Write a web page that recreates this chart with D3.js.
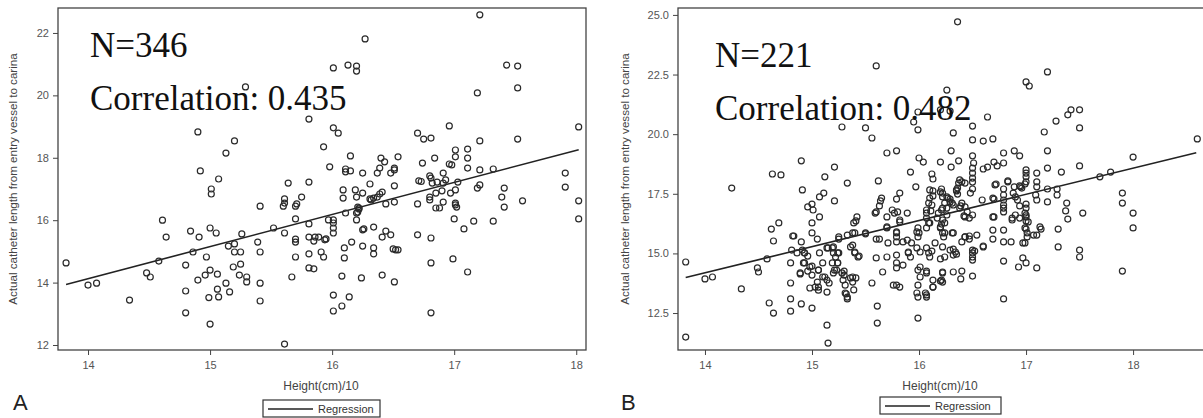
<!doctype html>
<html lang="en">
<head>
<meta charset="utf-8">
<script src="https://cdn.jsdelivr.net/npm/d3@7"></script>
<title>Catheter length vs height</title>
<style>
 body { margin: 0; background: #fff; }
 svg { display: block; }
 .tick text { font-family: Arial, "Liberation Sans", sans-serif; font-size: 11px; fill: #555; }
 .tick line { stroke: #444; }
 .axis path.domain { display: none; }
 .frame { fill: none; stroke: #444; stroke-width: 1.3; }
 .pt { fill: none; stroke: #2a2a2a; stroke-width: 1.2; }
 .reg { stroke: #222; stroke-width: 1.6; }
 .lab { font-family: Arial, "Liberation Sans", sans-serif; fill: #444; }
 .big { font-family: "Liberation Serif", "Times New Roman", serif; font-size: 35px; fill: #111; }
</style>
</head>
<body>
<svg id="chart" width="1203" height="418"></svg>
<script>
// panel A: height(cm)/10 vs catheter length
var pointsA = [
 [13.82,14.63],[14.00,13.92],[14.07,13.98],[14.34,13.44],[14.48,14.31],[14.51,14.18],[14.58,14.69],[14.61,16.00],
 [14.64,15.46],[14.80,14.56],[14.80,13.73],[14.80,13.03],[14.84,15.65],[14.86,14.98],[14.90,14.08],[14.91,15.46],
 [14.97,14.82],[14.96,14.24],[15.00,14.40],[14.99,13.52],[15.00,12.67],[15.00,15.75],[15.05,15.59],[15.06,14.27],
 [15.06,13.79],[15.07,13.54],[15.13,13.98],[15.16,13.70],[15.15,15.17],[15.19,14.50],[15.20,15.24],[15.20,14.98],
 [15.24,14.24],[15.25,14.98],[15.26,15.56],[15.25,14.59],[15.30,14.18],[15.30,14.02],[15.41,16.45],[15.39,15.30],
 [15.41,14.98],[15.41,13.98],[15.41,13.41],[15.52,15.75],[15.61,15.59],[15.67,14.18],[15.61,12.03],[15.70,16.04],
 [15.70,15.39],[15.70,15.30],[15.70,14.82],[15.29,20.27],[14.90,18.83],[15.20,18.54],[15.13,18.15],[14.92,17.58],
 [15.07,17.32],[15.01,17.00],[15.01,16.84],[15.64,17.19],[15.61,16.68],[15.61,16.55],[15.60,16.45],[15.70,16.45],
 [17.21,22.58],[16.27,21.81],[16.01,20.88],[16.13,20.97],[16.20,20.94],[16.20,20.78],[17.43,20.97],[17.52,20.94],
 [17.52,20.24],[17.19,20.08],[15.81,19.24],[16.01,18.96],[16.05,18.79],[15.93,18.35],[16.96,19.02],[16.70,18.79],
 [16.75,18.60],[16.81,18.63],[17.21,18.54],[17.52,18.60],[18.02,18.99],[16.15,18.06],[15.98,17.71],[16.11,17.64],
 [16.11,17.55],[16.15,17.58],[16.25,17.51],[15.81,17.22],[16.40,17.99],[16.43,17.87],[16.54,18.03],[16.51,17.67],
 [16.51,17.61],[16.37,17.51],[16.39,17.67],[16.48,17.51],[16.31,17.16],[16.51,17.10],[16.74,17.83],[16.84,17.99],
 [16.96,17.80],[16.98,17.77],[17.01,18.25],[17.01,18.03],[17.11,18.28],[17.11,17.99],[17.11,17.67],[17.03,17.22],
 [17.21,17.61],[17.32,17.64],[17.21,17.13],[16.91,17.51],[16.71,17.26],[16.73,17.24],[16.80,17.42],[16.81,17.35],
 [16.82,17.19],[16.86,17.22],[16.91,17.19],[16.93,17.29],[16.85,16.87],[16.90,16.94],[16.91,16.58],[16.80,16.74],
 [16.80,16.65],[17.01,16.97],[16.97,16.87],[17.01,16.55],[17.01,16.49],[17.02,16.42],[17.19,17.03],[17.41,17.03],
 [17.39,16.74],[17.56,16.62],[17.41,16.42],[17.91,17.51],[17.91,17.06],[18.02,16.62],[16.70,16.52],[16.09,16.97],
 [16.19,16.97],[16.25,16.87],[16.20,16.74],[16.41,16.90],[16.39,16.84],[16.09,16.71],[15.75,16.74],[15.71,16.52],
 [16.34,16.71],[16.37,16.74],[16.32,16.65],[16.44,16.52],[16.51,16.58],[16.22,16.39],[15.81,15.88],[15.81,15.46],
 [15.81,14.92],[15.81,14.47],[15.85,14.44],[15.85,15.33],[15.89,15.46],[15.91,14.98],[15.93,14.82],[15.95,15.40],
 [15.97,16.01],[16.01,16.01],[16.01,15.91],[16.01,15.75],[16.01,15.59],[16.11,16.23],[16.20,16.23],[16.20,16.01],
 [16.25,15.69],[16.26,15.72],[16.34,15.78],[16.16,15.30],[16.10,15.11],[16.10,14.79],[16.25,15.17],[16.34,15.11],
 [16.34,14.92],[16.41,15.46],[16.44,15.65],[16.48,15.53],[16.50,15.08],[16.52,15.05],[16.54,15.05],[16.08,14.21],
 [16.24,14.15],[16.41,14.24],[16.51,14.02],[16.01,13.60],[16.14,13.54],[16.01,13.09],[16.08,13.25],[16.70,15.53],
 [16.81,15.43],[16.81,14.63],[16.81,13.03],[16.88,16.39],[17.00,16.04],[17.08,15.72],[17.16,15.97],[16.99,14.76],
 [17.11,14.34],[17.32,15.97],[18.02,16.04],[16.21,16.42],[16.22,16.36],[16.21,16.26],[15.86,15.46],[15.94,15.37],
 [16.31,16.68],[16.85,16.39]
];

// panel B
var pointsB = [
 [14.25,17.74],[14.63,18.33],[14.71,18.29],[14.90,18.88],[14.91,17.66],[15.12,18.21],[15.21,18.62],[15.21,17.20],
 [15.33,17.95],[15.07,17.37],[15.11,17.53],[14.96,16.95],[15.00,17.07],[15.28,20.30],[15.50,20.26],[15.56,19.84],
 [15.60,22.86],[15.62,18.04],[15.70,19.21],[15.79,19.30],[15.65,17.32],[15.64,17.20],[15.79,17.28],
 [13.82,14.64],[13.82,11.49],[14.00,13.93],[14.07,14.01],[14.34,13.51],[14.49,14.39],[14.50,14.22],[14.58,14.77],
 [14.60,12.92],[14.64,12.50],[14.62,16.02],[14.69,16.28],[14.64,15.52],[14.80,14.60],[14.80,13.76],[14.80,13.09],
 [14.80,12.58],[14.83,15.73],[14.86,15.02],[14.89,14.14],[14.90,12.88],[14.90,15.48],[14.93,15.02],[14.93,14.60],
 [14.96,14.89],[14.96,14.26],[14.98,13.55],[15.00,12.71],[15.00,15.86],[15.00,16.28],[15.00,14.47],[15.05,15.60],
 [15.06,14.30],[15.05,13.80],[15.06,13.59],[15.07,16.53],[15.12,14.01],[15.14,11.99],[15.15,11.24],[15.16,13.76],
 [15.14,15.23],[15.19,14.60],[15.20,15.27],[15.20,15.02],[15.24,15.02],[15.21,14.30],[15.24,14.60],[15.25,15.60],
 [15.30,14.26],[15.30,14.09],[15.32,13.30],[15.33,13.09],[15.33,15.77],[15.38,13.80],[15.41,13.97],[15.39,13.47],
 [15.38,15.35],[15.40,15.02],[15.44,14.89],[15.40,15.86],[15.42,16.53],[15.41,16.36],[15.50,15.86],[15.56,13.76],
 [15.61,12.79],[15.61,12.08],[15.60,14.81],[15.59,16.69],[15.60,16.74],[15.60,15.60],[15.63,15.60],[15.66,14.22],
 [15.70,16.07],[15.70,14.85],[15.71,15.44],[15.70,16.53],[15.76,13.67],[15.77,16.69],[15.79,15.86],[15.79,15.48],
 [15.79,14.93],[15.79,14.60],[15.79,14.39],
 [16.36,24.71],[17.20,22.61],[17.00,22.19],[17.03,22.02],[16.26,21.85],[17.39,20.81],[17.42,21.02],[17.50,21.02],
 [17.28,20.55],[17.50,20.26],[17.17,20.09],[18.60,19.80],[18.00,19.04],[16.64,20.72],[15.99,20.93],[16.20,21.02],
 [16.29,20.97],[15.95,20.51],[15.99,20.18],[16.32,20.05],[16.50,20.34],[16.50,19.76],[16.60,19.71],[16.69,19.80],
 [16.30,19.30],[16.00,19.00],[16.04,18.83],[16.20,18.83],[16.37,18.88],[16.30,18.62],[15.92,18.41],[16.12,18.33],
 [16.13,18.12],[16.50,19.09],[16.51,18.79],[16.50,18.58],[16.50,18.37],[16.50,18.16],[16.50,17.99],[16.50,17.70],
 [16.60,18.54],[16.64,18.62],[16.70,18.83],[16.73,18.67],[16.79,18.79],[16.79,19.21],[16.89,19.30],[16.94,19.09],
 [17.20,19.30],[17.20,18.58],[17.33,18.41],[17.50,18.67],[17.69,18.21],[17.79,18.41],[17.90,17.53],[17.90,17.11],
 [17.00,18.50],[17.00,18.37],[17.00,18.21],[17.00,18.00],[16.99,17.91],[16.95,17.79],[17.10,18.37],[17.10,18.00],
 [17.10,17.79],[17.09,17.45],[17.10,17.24],[17.20,17.70],[17.29,17.70],[17.29,17.45],[17.38,17.11],[16.79,17.70],
 [16.79,17.45],[16.79,17.24],[16.79,17.03],[16.88,17.53],[16.90,17.37],[16.92,17.24],[16.72,17.91],[16.70,17.28],
 [16.83,18.00],[16.59,17.24],[16.48,17.53],[16.40,18.00],[16.37,17.95],[16.35,17.62],[16.36,17.74],[16.22,17.53],
 [16.27,17.32],[16.21,17.70],[16.10,17.66],[16.13,17.62],[16.13,17.41],[16.10,17.32],[16.09,17.11],[15.97,17.79],
 [15.82,17.53],[16.40,17.11],[16.39,16.99],[16.29,17.28],[16.31,17.11],
 [15.99,12.29],[16.79,13.09],[17.90,14.26],[18.00,16.69],[18.00,16.07],[17.50,15.14],[17.50,14.85],[17.53,16.69],
 [17.37,16.78],[17.39,16.44],[17.30,16.02],[17.30,15.27],[17.14,16.02],[17.10,14.39],[17.07,15.77],[17.00,16.61],
 [17.00,16.53],[17.00,16.36],[16.99,16.07],[17.00,16.02],[16.99,15.44],[16.97,15.44],[16.97,14.81],[17.00,14.60],
 [16.93,14.43],[17.02,16.32],[16.79,16.90],[16.79,16.74],[16.79,15.98],[16.79,15.48],[16.79,14.68],[16.87,16.40],
 [16.90,16.61],[16.94,16.99],[16.69,16.53],[16.69,15.60],[16.60,15.27],[16.54,15.77],[16.50,15.14],[16.50,15.02],
 [16.50,14.85],[16.50,14.72],[16.52,15.10],[16.50,14.05],[16.47,15.60],[16.43,15.69],[16.40,15.48],[16.40,14.26],
 [16.50,16.61],[16.43,16.53],[16.45,16.74],[16.32,15.86],[16.24,15.86],[16.32,15.18],[16.29,15.14],[16.35,14.97],
 [16.22,15.27],[16.22,14.22],[16.20,13.84],[16.13,13.59],[16.07,13.26],[15.99,13.17],[15.99,13.67],[16.20,14.77],
 [16.12,15.10],[16.10,14.85],[16.20,16.07],[16.21,16.23],[16.10,16.28],[16.07,16.69],[16.12,17.03],[16.22,16.90],
 [16.29,17.16],[15.99,16.07],[15.98,15.90],[16.00,15.86],[15.99,15.69],[16.01,14.43],[16.07,14.26],[15.85,15.48],
 [15.89,15.56],[15.93,15.44],[15.90,15.02],[15.92,14.85],[15.85,14.51],[15.89,16.69],[15.80,16.74],[15.82,16.32],
 [15.01,16.82],[15.63,16.99],[15.75,16.82],[15.39,16.28],[15.70,16.11],[15.82,16.40],[16.20,17.58],[16.22,17.37],
 [16.24,17.11],[16.26,16.90],[16.21,16.82],[16.07,16.82],[16.11,16.78],[16.07,16.48],[16.18,16.69],[16.17,16.48],
 [16.26,16.61],[16.22,16.40],[16.24,16.28],[16.09,16.28],[16.07,16.07],[16.20,16.11],[16.22,15.86],[16.23,15.69],
 [15.79,15.90],[15.79,15.69],[15.90,15.06],[15.98,15.23],[16.01,15.06],[16.07,15.23],[16.09,15.02],[16.15,15.44],
 [16.24,14.85],[16.07,14.18],[16.13,13.88],[16.21,13.88],[16.22,14.18],[15.99,14.30],[16.01,14.01],[15.38,15.86],
 [15.50,15.82],[15.36,15.27],[15.40,15.06],[15.43,14.85],[15.25,15.69],[15.15,15.23],[15.19,15.23],[15.25,15.02],
 [15.22,14.85],[15.24,14.60],[15.07,15.02],[15.10,14.60],[15.06,14.30],[15.10,14.01],[15.14,13.88],[15.20,14.18],
 [15.23,14.30],[15.28,14.18],[15.29,13.88],[15.31,13.67],[15.38,14.01],[15.36,13.97],[15.79,13.67],[15.82,13.59],
 [14.91,15.14],[14.93,15.02],[14.92,14.60],[14.82,15.73],[14.81,15.14],[14.98,14.43],[15.00,14.09],[14.89,14.18],
 [15.03,13.59],[15.06,13.46],[15.14,13.38],[15.31,13.34],[15.33,13.17],[15.98,13.34],[16.06,13.34],[16.07,13.17],
 [16.13,13.59],[16.22,13.80],
 [17.10,15.77],[17.20,17.16],[17.00,17.07],[17.00,16.90],[16.99,16.69],[16.94,17.83],[16.96,17.74],[16.83,18.04],
 [16.89,17.79],[16.71,17.87],[16.87,16.48],[16.94,16.48],[16.69,17.32],[16.70,16.53],[16.69,15.98],[17.01,15.86],
 [17.01,15.69],[17.13,16.11],[16.86,15.48],[16.60,15.31],[16.34,15.06],[16.32,14.93],[16.31,15.86],[16.43,15.69],
 [16.47,15.73],[16.42,16.57],[16.47,16.48],[16.38,18.08],[16.43,17.95],[16.35,17.66],[16.36,17.49],[16.32,14.22],
 [16.39,13.93],[16.26,17.37],[16.32,17.03],[16.38,16.90],[16.43,16.95]
];

// fitted lines (end points)
var regA = [[13.82, 13.94], [18.02, 18.26]];
var regB = [[13.82, 13.99], [18.59, 19.22]];

var xTicks = [14, 15, 16, 17, 18];
var yTicksA = [12, 14, 16, 18, 20, 22];
var yTicksB = [12.5, 15, 17.5, 20, 22.5, 25];

var xTitle = "Height(cm)/10";
var yTitle = "Actual catheter length from entry vessel to carina";
var legendText = "Regression";

var panels = [
  { id: "A", pts: pointsA, reg: regA, yTicks: yTicksA, yFmt: d3.format("d"),
    xDom: [13.754, 18.08], yDom: [11.84, 22.80], left: 58, right: 586, top: 8, bottom: 350,
    n: "N=346", corr: "Correlation: 0.435", nx: 90, ny: 57, cy: 110,
    yLabX: 13, letterX: 13, legX: 263, legY: 400, legW: 117, xLabX: 321 },
  { id: "B", pts: pointsB, reg: regB, yTicks: yTicksB, yFmt: d3.format(".1f"),
    xDom: [13.748, 18.7], yDom: [10.95, 25.29], left: 678, right: 1208, top: 8, bottom: 350,
    n: "N=221", corr: "Correlation: 0.482", nx: 715, ny: 67, cy: 120,
    yLabX: 625, letterX: 621, legX: 880, legY: 397, legW: 121, xLabX: 940 }
];

var svg = d3.select("#chart");

panels.forEach(function (p) {
  var x = d3.scaleLinear().domain(p.xDom).range([p.left, p.right]);
  var y = d3.scaleLinear().domain(p.yDom).range([p.bottom, p.top]);
  var g = svg.append("g");

  g.append("rect")
    .attr("class", "frame")
    .attr("x", p.left).attr("y", p.top)
    .attr("width", p.right - p.left).attr("height", p.bottom - p.top);

  g.append("g")
    .attr("class", "axis")
    .attr("transform", "translate(0," + p.bottom + ")")
    .call(d3.axisBottom(x).tickValues(xTicks).tickFormat(d3.format("d"))
      .tickSize(5).tickPadding(6).tickSizeOuter(0));

  g.append("g")
    .attr("class", "axis")
    .attr("transform", "translate(" + p.left + ",0)")
    .call(d3.axisLeft(y).tickValues(p.yTicks).tickFormat(p.yFmt).tickSize(5).tickPadding(4).tickSizeOuter(0));

  // regression line
  g.append("line")
    .attr("class", "reg")
    .attr("x1", x(p.reg[0][0])).attr("y1", y(p.reg[0][1]))
    .attr("x2", x(p.reg[1][0])).attr("y2", y(p.reg[1][1]));

  // points
  g.selectAll(".pt").data(p.pts).enter().append("circle")
    .attr("class", "pt")
    .attr("r", 3)
    .attr("cx", function (d) { return x(d[0]); })
    .attr("cy", function (d) { return y(d[1]); });

  // big annotations
  g.append("text").attr("class", "big").attr("x", p.nx).attr("y", p.ny).text(p.n);
  g.append("text").attr("class", "big").attr("x", p.nx).attr("y", p.cy).text(p.corr);

  // axis titles
  g.append("text").attr("class", "lab")
    .attr("x", p.xLabX).attr("y", 390)
    .attr("text-anchor", "middle").style("font-size", "12px")
    .text(xTitle);

  g.append("text").attr("class", "lab")
    .attr("transform", "translate(" + (p.yLabX + 4) + "," + ((p.top + p.bottom) / 2) + ") rotate(-90)")
    .attr("text-anchor", "middle").style("font-size", "11.6px")
    .text(yTitle);

  // panel letter
  g.append("text")
    .attr("x", p.letterX).attr("y", 410)
    .style("font-family", "Arial, 'Liberation Sans', sans-serif")
    .style("font-size", "22px").style("fill", "#222")
    .text(p.id);

  // legend
  var lg = g.append("g").attr("transform", "translate(" + p.legX + "," + p.legY + ")");
  lg.append("rect").attr("width", p.legW).attr("height", 17)
    .attr("fill", "none").attr("stroke", "#333").attr("stroke-width", 1.2);
  lg.append("line").attr("x1", 5).attr("x2", 50).attr("y1", 9).attr("y2", 9)
    .attr("stroke", "#222").attr("stroke-width", 1.6);
  lg.append("text").attr("class", "lab").attr("x", 55).attr("y", 13)
    .style("font-size", "11px").style("fill", "#333")
    .text(legendText);
});
</script>
</body>
</html>
